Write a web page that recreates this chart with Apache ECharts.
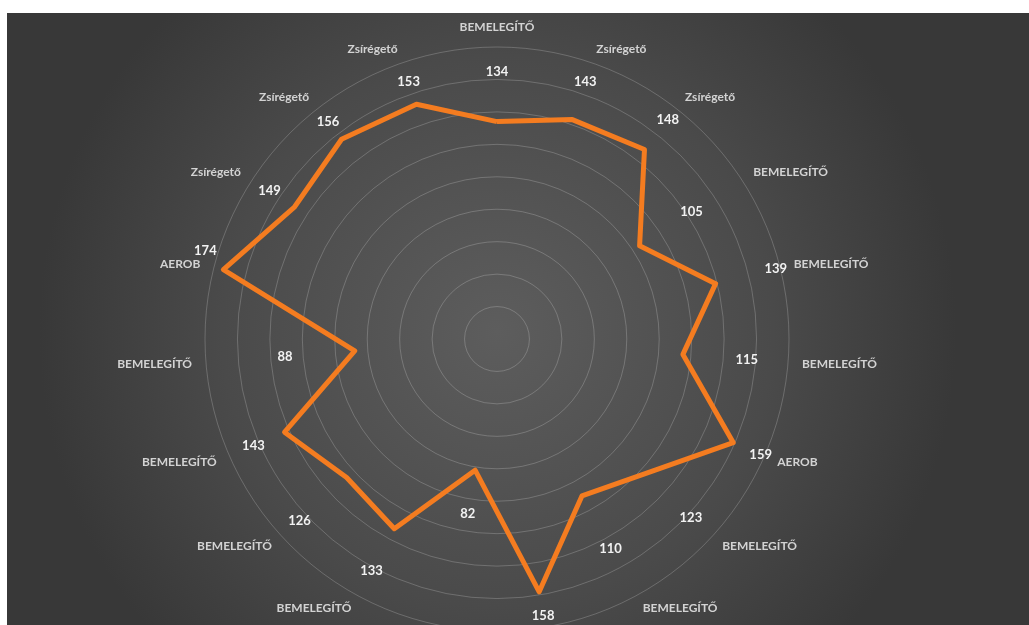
<!DOCTYPE html>
<html>
<head>
<meta charset="utf-8">
<script src="https://cdn.jsdelivr.net/npm/echarts@6/dist/echarts.min.js"></script>
<style>
html,body{margin:0;padding:0;background:#fff;width:1029px;height:625px;overflow:hidden;}
#chart{position:absolute;left:7px;top:13px;width:1022px;height:612px;}
</style>
</head>
<body>
<div id="chart"></div>
<script>
// Categories listed clockwise, starting at 12 o'clock
const categories = ['BEMELEGÍTŐ','Zsírégető','Zsírégető','BEMELEGÍTŐ','BEMELEGÍTŐ','BEMELEGÍTŐ','AEROB','BEMELEGÍTŐ','BEMELEGÍTŐ','Zsírégető','BEMELEGÍTŐ','BEMELEGÍTŐ','BEMELEGÍTŐ','BEMELEGÍTŐ','BEMELEGÍTŐ','AEROB','Zsírégető','Zsírégető','Zsírégető'];
const values = [134,143,148,105,139,115,159,123,110,158,82,133,126,143,88,174,149,156,153];
const axisMax = 180;
const ringCount = 9;
// style: outward distance (px) of each value label from its point, clockwise order
const labelGap = [50, 40, 38, 62, 62, 64, 30, 64, 60, 24, 44, 48, 64, 34, 70, 26, 30, 22, 24];
// style: extra turn (degrees, clockwise) of each label's direction
const labelTurn = [0, 0, 0, 0, 0, 0, 0, 0, 0, 0, 0, 0, 0, 0, 0, 32, 0, 0, 0];

const n = categories.length;
// ECharts radar runs counter-clockwise; reorder so the chart reads clockwise
const order = [0];
for (let i = n - 1; i >= 1; i--) order.push(i);
const indicators = order.map(i => ({ name: categories[i], max: axisMax, min: 0 }));
const seriesValues = order.map(i => values[i]);

// one invisible helper item per point, carrying that point's value label
const labelItems = categories.map((c, k) => {
  const pos = order.indexOf(k);
  const arr = order.map((i, p) => (p === pos ? values[i] : '-'));
  const th = k * 2 * Math.PI / n + labelTurn[k] * Math.PI / 180;
  const g = labelGap[k];
  return {
    value: arr,
    label: { position: 'inside', offset: [Math.sin(th) * g, -Math.cos(th) * g] }
  };
});

const chart = echarts.init(document.getElementById('chart'));
chart.setOption({
  animation: false,
  backgroundColor: {
    type: 'radial', x: 0.48, y: 0.52, r: 0.75,
    colorStops: [
      { offset: 0, color: '#5d5d5d' },
      { offset: 0.6, color: '#4a4a4a' },
      { offset: 1, color: '#383838' }
    ]
  },
  radar: {
    center: [490, 326],
    radius: 292,
    startAngle: 90,
    shape: 'circle',
    splitNumber: ringCount,
    indicator: indicators,
    nameGap: 14,
    axisName: { color: '#d3d3d3', fontSize: 12, fontFamily: 'Lato', fontWeight: 'bold' },
    axisLine: { show: false },
    axisTick: { show: false },
    axisLabel: { show: false },
    splitArea: { show: false },
    splitLine: { lineStyle: { color: 'rgba(255,255,255,0.2)', width: 1 } }
  },
  series: [{
    type: 'radar',
    symbol: 'none',
    z: 3,
    lineStyle: { color: '#F47C20', width: 5, join: 'round' },
    itemStyle: { color: '#F47C20' },
    data: [{ value: seriesValues, name: 'Pulzus' }]
  }, {
    type: 'radar',
    symbol: 'circle',
    symbolSize: 1,
    z: 4,
    silent: true,
    lineStyle: { opacity: 0, width: 0 },
    itemStyle: { color: 'rgba(0,0,0,0)' },
    label: {
      show: true,
      color: '#f2f2f2',
      fontSize: 13,
      fontFamily: 'Lato',
      fontWeight: 'bold',
      formatter: p => (typeof p.value === 'number' && !isNaN(p.value) ? String(p.value) : '')
    },
    data: labelItems
  }]
});
</script>
</body>
</html>
